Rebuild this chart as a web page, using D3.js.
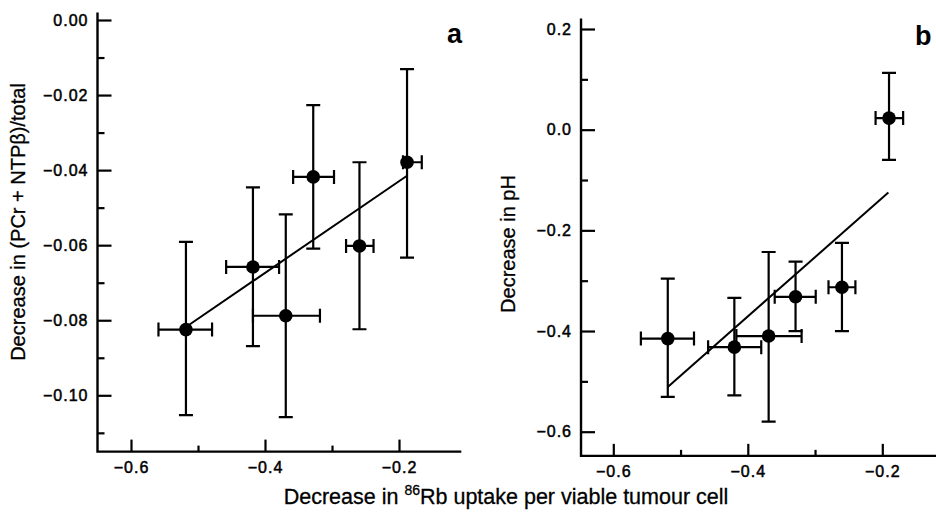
<!DOCTYPE html>
<html><head><meta charset="utf-8">
<script src="https://cdn.jsdelivr.net/npm/d3@7"></script>
<style>
body{margin:0;background:#fff;}
text{font-family:"Liberation Sans",Arial,Helvetica,sans-serif;fill:#000;}
</style></head>
<body><svg id="c" width="936" height="515"></svg>
<script>
// ---- Panel a data: decrease in (PCr + NTPβ)/total vs decrease in 86Rb uptake
const aX    = [-0.518, -0.418, -0.369, -0.328, -0.259, -0.188];
const aY    = [-0.0825, -0.0658, -0.0788, -0.0418, -0.0602, -0.0379];
const aXlo  = [-0.559, -0.458, -0.418, -0.358, -0.279, -0.194];
const aXhi  = [-0.479, -0.379, -0.318, -0.297, -0.238, -0.166];
const aYlo  = [-0.1053, -0.0869, -0.1058, -0.0609, -0.0824, -0.0633];
const aYhi  = [-0.0591, -0.0446, -0.0518, -0.0227, -0.0379, -0.0131];
const aFitX = [-0.518, -0.188];
const aFitY = [-0.0818, -0.0415];
const aYMajor = [0, -0.02, -0.04, -0.06, -0.08, -0.10];
const aYMinor = [-0.01, -0.03, -0.05, -0.07, -0.09, -0.11];
const aYLabels = ["0.00", "\u22120.02", "\u22120.04", "\u22120.06", "\u22120.08", "\u22120.10"];

// ---- Panel b data: decrease in pH
const bX    = [-0.519, -0.420, -0.369, -0.329, -0.260, -0.190];
const bY    = [-0.415, -0.432, -0.410, -0.332, -0.313, 0.023];
const bXlo  = [-0.559, -0.459, -0.417, -0.360, -0.280, -0.210];
const bXhi  = [-0.480, -0.380, -0.320, -0.299, -0.240, -0.169];
const bYlo  = [-0.531, -0.528, -0.580, -0.400, -0.400, -0.060];
const bYhi  = [-0.296, -0.334, -0.243, -0.262, -0.225, 0.113];
const bFitX = [-0.519, -0.191];
const bFitY = [-0.511, -0.125];
const bYMajor = [0.2, 0.0, -0.2, -0.4, -0.6];
const bYMinor = [0.1, -0.1, -0.3, -0.5];
const bYLabels = ["0.2", "0.0", "\u22120.2", "\u22120.4", "\u22120.6"];

// shared x ticks
const xMajor = [-0.6, -0.4, -0.2];
const xMinor = [-0.5, -0.3];
const xLabels = ["\u22120.6", "\u22120.4", "\u22120.2"];

const svg = d3.select("#c");

function panel(cfg){
  const g = svg.append("g");
  const x = cfg.x, y = cfg.y;
  const x0 = x(cfg.xExt[0]), x1 = x(cfg.xExt[1]);
  const y0 = y(cfg.yExt[0]), y1 = y(cfg.yExt[1]);
  // y axis
  const yAxMaj = d3.axisLeft(y).tickValues(cfg.yMajor).tickSizeInner(-14).tickSizeOuter(0).tickPadding(9)
      .tickFormat((d,i)=>cfg.yLabels[i]);
  const ga = g.append("g").attr("transform",`translate(${x0},0)`).call(yAxMaj);
  ga.select(".domain").remove();
  const yAxMin = d3.axisLeft(y).tickValues(cfg.yMinor).tickSizeInner(-7).tickSizeOuter(0).tickFormat("");
  const gb = g.append("g").attr("transform",`translate(${x0},0)`).call(yAxMin);
  gb.select(".domain").remove();
  // x axis
  const xAxMaj = d3.axisBottom(x).tickValues(xMajor).tickSizeInner(-12).tickSizeOuter(0).tickPadding(10)
      .tickFormat((d,i)=>xLabels[i]);
  const gc = g.append("g").attr("transform",`translate(0,${y0})`).call(xAxMaj);
  gc.select(".domain").remove();
  const xAxMin = d3.axisBottom(x).tickValues(xMinor).tickSizeInner(-6).tickSizeOuter(0).tickFormat("");
  const gd = g.append("g").attr("transform",`translate(0,${y0})`).call(xAxMin);
  gd.select(".domain").remove();
  g.selectAll(".tick line").attr("stroke","#000").attr("stroke-width",2.2);
  g.selectAll(".tick text").attr("font-size",16).attr("letter-spacing","1px").attr("fill","#000")
    .attr("stroke","#000").attr("stroke-width",0.5);
  // axis lines
  g.append("path").attr("d",`M${x0},${y1}L${x0},${y0}L${x1},${y0}`)
    .attr("fill","none").attr("stroke","#000").attr("stroke-width",2.4);
  // fit line
  g.append("line").attr("x1",x(cfg.fitX[0])).attr("y1",y(cfg.fitY[0]))
    .attr("x2",x(cfg.fitX[1])).attr("y2",y(cfg.fitY[1]))
    .attr("stroke","#000").attr("stroke-width",2);
  // error bars
  const cap = 7;
  cfg.px.forEach((px,i)=>{
    const cx = x(px), cy = y(cfg.py[i]);
    const ylo = y(cfg.ylo[i]), yhi = y(cfg.yhi[i]);
    const xlo = x(cfg.xlo[i]), xhi = x(cfg.xhi[i]);
    const d = `M${cx},${ylo}L${cx},${yhi}M${cx-cap},${ylo}L${cx+cap},${ylo}M${cx-cap},${yhi}L${cx+cap},${yhi}`+
              `M${xlo},${cy}L${xhi},${cy}M${xlo},${cy-cap}L${xlo},${cy+cap}M${xhi},${cy-cap}L${xhi},${cy+cap}`;
    g.append("path").attr("d",d).attr("fill","none").attr("stroke","#000").attr("stroke-width",2.2);
    g.append("circle").attr("cx",cx).attr("cy",cy).attr("r",6.8).attr("fill","#000");
  });
  // panel letter
  g.append("text").attr("x",cfg.letterPos[0]).attr("y",cfg.letterPos[1])
    .attr("font-size",27).attr("font-weight","bold").text(cfg.letter);
  // y title
  g.append("text").attr("transform",`translate(${cfg.yTitlePos[0]},${cfg.yTitlePos[1]}) rotate(-90)`)
    .attr("text-anchor","middle").attr("font-size",20).attr("stroke","#000").attr("stroke-width",0.3)
    .text(cfg.yTitle);
}

const xa = d3.scaleLinear().domain([-0.6,-0.2]).range([131,399]);
const ya = d3.scaleLinear().domain([0,-0.1]).range([20,395.3]);
panel({x:xa, y:ya, xExt:[-0.65,-0.107], yExt:[-0.115,0.002],
  yMajor:aYMajor, yMinor:aYMinor, yLabels:aYLabels,
  px:aX, py:aY, xlo:aXlo, xhi:aXhi, ylo:aYlo, yhi:aYhi, fitX:aFitX, fitY:aFitY,
  letter:"a", letterPos:[447,43], yTitle:"Decrease in (PCr + NTP\u03b2)/total", yTitlePos:[25,222]});

const xb = d3.scaleLinear().domain([-0.6,-0.2]).range([613.3,882.3]);
const yb = d3.scaleLinear().domain([0.2,-0.6]).range([29,431.7]);
panel({x:xb, y:yb, xExt:[-0.648,-0.12], yExt:[-0.648,0.221],
  yMajor:bYMajor, yMinor:bYMinor, yLabels:bYLabels,
  px:bX, py:bY, xlo:bXlo, xhi:bXhi, ylo:bYlo, yhi:bYhi, fitX:bFitX, fitY:bFitY,
  letter:"b", letterPos:[915,45], yTitle:"Decrease in pH", yTitlePos:[515,244]});

// shared x title
const xt = svg.append("text").attr("x",506).attr("y",504).attr("text-anchor","middle").attr("font-size",21.5)
  .attr("stroke","#000").attr("stroke-width",0.3);
xt.append("tspan").text("Decrease in ");
xt.append("tspan").attr("font-size",14).attr("dy",-9).text("86");
xt.append("tspan").attr("dy",9).text("Rb uptake per viable tumour cell");
</script></body></html>
